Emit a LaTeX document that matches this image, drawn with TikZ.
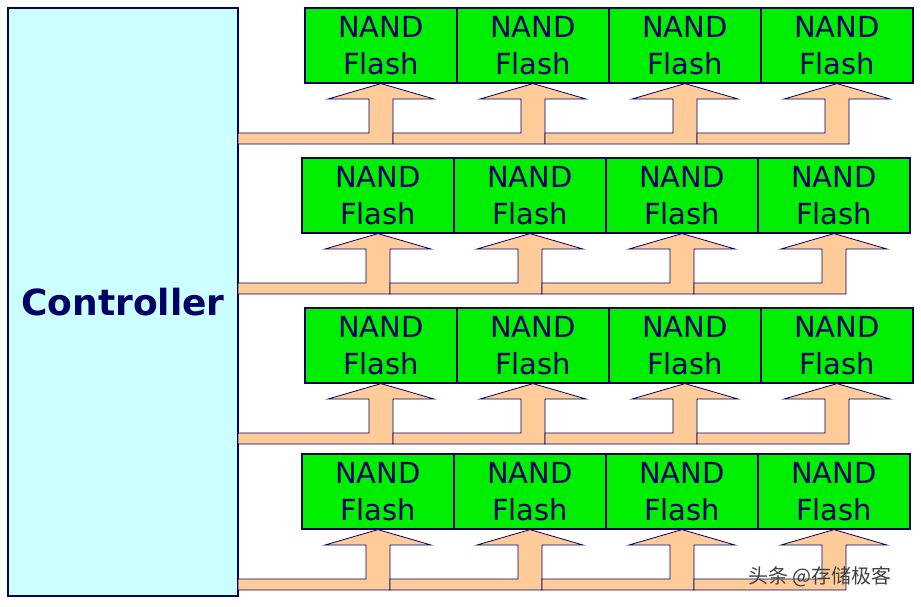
\documentclass[tikz,border=0pt]{standalone}
\usepackage{fontspec}
\setmainfont{DejaVu Sans}
\newfontfamily\cjk{Noto Sans CJK SC}
\definecolor{navy}{HTML}{000066}
\definecolor{ctrlfill}{HTML}{CCFFFF}
\definecolor{flashfill}{HTML}{00EE00}
\definecolor{busfill}{HTML}{FFCC99}
\tikzset{
  flash/.style={draw=navy, fill=flashfill, line width=1.2pt, minimum width=152pt,
    minimum height=75pt, inner sep=0pt, align=center, text=navy,
    font=\fontsize{29}{37}\selectfont},
  ctrl/.style={draw=navy, fill=ctrlfill, line width=1.2pt, minimum width=230pt,
    minimum height=588pt, inner sep=0pt, text=navy,
    font=\fontsize{36}{40}\selectfont\bfseries},
  bus/.style={draw=navy, fill=busfill, line width=0.8pt, line join=miter}
}
\begin{document}
\begin{tikzpicture}[x=1pt,y=-1pt]
\useasboundingbox (0,0) rectangle (921,606);

\node[ctrl] (ctrl) at (123,302) {Controller};

% rows of flash chips: left edge, top edge
\foreach \r/\xl/\yt in {1/305/8, 2/302/158, 3/305/308, 4/302/454}{
  \foreach \c in {1,...,4}{
    \node[flash] (f\r\c) at ({\xl+76+152*(\c-1)}, {\yt+37.5}) {NAND\\Flash};
  }
  % bus with arrows up to each chip
  \foreach \c [evaluate=\c as \xs using {\c==1 ? 238 : \xl+88+152*(\c-2)},
               evaluate=\c as \cx using {\xl+76+152*(\c-1)}] in {1,...,4}{
    \draw[bus] (\xs, {\yt+125}) -- ({\cx-12}, {\yt+125}) -- ({\cx-12}, {\yt+91})
      -- ({\cx-53}, {\yt+91}) -- (f\r\c.south) -- ({\cx+53}, {\yt+91})
      -- ({\cx+12}, {\yt+91}) -- ({\cx+12}, {\yt+136}) -- (\xs, {\yt+136}) -- cycle;
  }
}

\node[text=black!75, font=\cjk\fontsize{20}{24}\selectfont] (mark) at (820,577) {头条 @存储极客};
\end{tikzpicture}
\end{document}
